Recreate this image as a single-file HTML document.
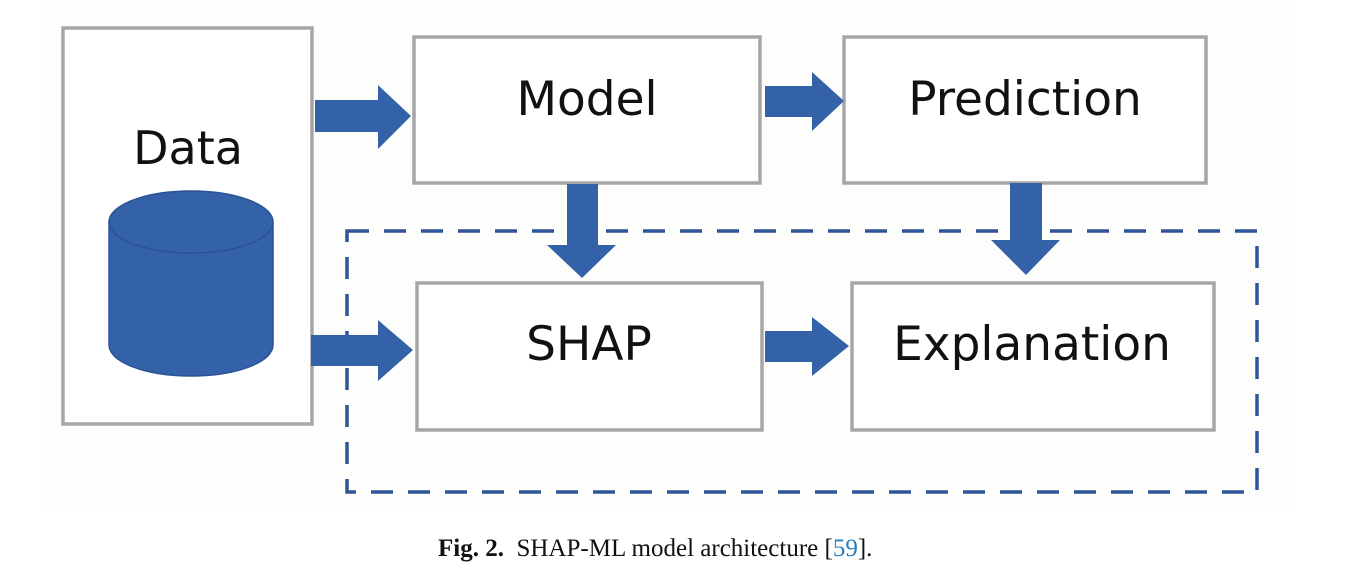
<!DOCTYPE html>
<html><head><meta charset="utf-8"><style>
html,body{margin:0;padding:0;background:#fff;}
svg{display:block;}
</style></head><body>
<svg width="1354" height="578" viewBox="0 0 1354 578" xmlns="http://www.w3.org/2000/svg">
<rect x="40" y="0" width="1255" height="505" fill="#fdfdfc"/>
<g fill="#fff" stroke="#a6a6a6" stroke-width="3.5">
<rect x="63" y="28" width="249" height="396"/>
<rect x="414" y="37" width="346" height="146"/>
<rect x="844" y="37" width="362" height="146"/>
<rect x="417" y="283" width="345" height="147"/>
<rect x="852" y="283" width="362" height="147"/>
</g>
<rect x="347" y="231" width="910" height="261" fill="none" stroke="#2e5597" stroke-width="3.5" stroke-dasharray="22 15"/>
<g fill="#3462a8">
<polygon points="315,100 378,100 378,85 411,116 378,149 378,132 315,132"/>
<polygon points="311,335 378,335 378,320 413,350 378,381 378,366 311,366"/>
<polygon points="765,86 812,86 812,72 844,101 812,131 812,117 765,117"/>
<polygon points="765,331 812,331 812,317 849,346 812,376 812,362 765,362"/>
<polygon points="567,184 598,184 598,245 616,245 582,278 547,245 567,245"/>
<polygon points="1010,183 1042,183 1042,240 1060,240 1026,275 991,240 1010,240"/>
</g>
<g stroke="#2a5294" stroke-width="1.5" fill="#3462a8">
<path d="M109,222 L109,345 A82,31 0 0 0 273,345 L273,222 Z"/>
<ellipse cx="191" cy="222" rx="82" ry="31"/>
</g>
<g font-family="'DejaVu Sans','Liberation Sans',sans-serif" font-size="47" fill="#111" text-anchor="middle">
<text x="188" y="164" font-size="46">Data</text>
<text x="587" y="115">Model</text>
<text x="1025" y="115">Prediction</text>
<text x="589" y="360">SHAP</text>
<text x="1032" y="360">Explanation</text>
</g>
<text x="438" y="556" font-family="'Liberation Serif',serif" font-size="25" fill="#111" xml:space="preserve"><tspan font-weight="bold">Fig. 2.</tspan>  SHAP-ML model architecture [<tspan fill="#2e7cb8">59</tspan>].</text>
</svg>
</body></html>
